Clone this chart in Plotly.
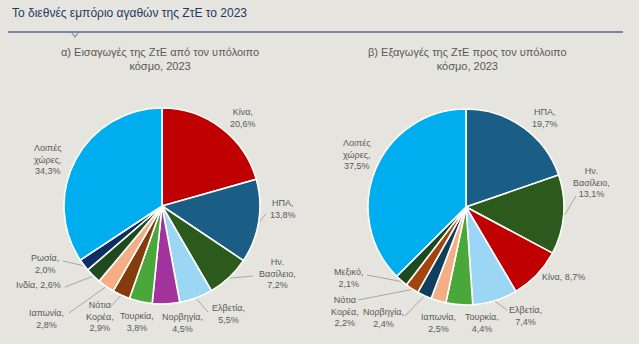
import math
import plotly.graph_objects as go

W, H = 639, 344

# ---- data -------------------------------------------------------------
imp_countries = ["Κίνα", "ΗΠΑ", "Ην. Βασίλειο", "Ελβετία", "Νορβηγία", "Τουρκία",
                 "Νότια Κορέα", "Ιαπωνία", "Ινδία", "Ρωσία", "Λοιπές χώρες"]
imp_shares = [20.6, 13.8, 7.2, 5.5, 4.5, 3.8, 2.9, 2.8, 2.6, 2.0, 34.3]

exp_countries = ["ΗΠΑ", "Ην. Βασίλειο", "Κίνα", "Ελβετία", "Τουρκία", "Ιαπωνία",
                 "Νορβηγία", "Νότια Κορέα", "Μεξικό", "Λοιπές χώρες"]
exp_shares = [19.7, 13.1, 8.7, 7.4, 4.4, 2.5, 2.4, 2.2, 2.1, 37.5]

title_text = "Το διεθνές εμπόριο αγαθών της ΖτΕ το 2023"
imp_title = "α) Εισαγωγές της ΖτΕ από τον υπόλοιπο<br>κόσμο, 2023"
exp_title = "β) Εξαγωγές της ΖτΕ προς τον υπόλοιπο<br>κόσμο, 2023"

# ---- styling ----------------------------------------------------------
colors = {
    "Κίνα": "#c00000",
    "ΗΠΑ": "#1a5e85",
    "Ην. Βασίλειο": "#2b5a1c",
    "Ελβετία": "#9bd7f4",
    "Νορβηγία": "#a2329c",
    "Τουρκία": "#4aa73a",
    "Νότια Κορέα": "#843c0c",
    "Ιαπωνία": "#f4ae86",
    "Ινδία": "#1e4a1e",
    "Ρωσία": "#0e2d62",
    "Μεξικό": "#1e4a1e",
    "Λοιπές χώρες": "#00adef",
}
exp_colors = dict(colors)
exp_colors["Νορβηγία"] = "#0f3f5c"
exp_colors["Νότια Κορέα"] = "#a1440e"

wrapped = {"Ην. Βασίλειο": "Ην.<br>Βασίλειο", "Λοιπές χώρες": "Λοιπές<br>χώρες",
           "Νότια Κορέα": "Νότια<br>Κορέα"}

BG = "#e5e4df"
LABEL_FONT = dict(family="Liberation Sans, Arial, sans-serif", size=9, color="#5a5a5a")

# pie geometry in pixels: centre x, centre y (from top), radius
imp_geo = (162, 206, 98)
exp_geo = (466, 207, 98)

# label placement in pixels: centre of text block, single-line flag, leader end
imp_label_pos = {
    "Κίνα": (243, 117.5, False, None),
    "ΗΠΑ": (283, 209, False, (266, 214)),
    "Ην. Βασίλειο": (277, 273.5, False, (253, 276)),
    "Ελβετία": (228, 313.5, False, (208, 312)),
    "Νορβηγία": (182, 323, False, None),
    "Τουρκία": (137, 322, False, None),
    "Νότια Κορέα": (100, 316, False, (111, 306)),
    "Ιαπωνία": (46, 319, False, (69, 313)),
    "Ινδία": (38, 285, True, (65, 287)),
    "Ρωσία": (45, 263.5, False, (63, 261)),
    "Λοιπές χώρες": (48, 159.5, False, None),
}
exp_label_pos = {
    "ΗΠΑ": (545, 118, False, None),
    "Ην. Βασίλειο": (591, 182, False, (576, 196)),
    "Κίνα": (563, 277, True, None),
    "Ελβετία": (525, 315.5, False, (507, 310)),
    "Τουρκία": (482, 323, False, None),
    "Ιαπωνία": (438, 323, False, None),
    "Νορβηγία": (383, 317.5, False, (405, 316)),
    "Νότια Κορέα": (345, 311, False, (358, 300)),
    "Μεξικό": (348, 278, False, (367, 275)),
    "Λοιπές χώρες": (357, 154.5, False, None),
}


def px(x):
    return x / W


def py(y):
    return 1 - y / H


def pie_domain(geo):
    cx, cy, r = geo
    return dict(x=[px(cx - r), px(cx + r)], y=[py(cy + r), py(cy - r)])


def fmt(v):
    return f"{v:.1f}".replace(".", ",") + "%"


fig = go.Figure()
for names, vals, geo, cmap in [(imp_countries, imp_shares, imp_geo, colors),
                               (exp_countries, exp_shares, exp_geo, exp_colors)]:
    fig.add_trace(go.Pie(
        labels=names, values=vals, sort=False, direction="clockwise", rotation=0,
        marker=dict(colors=[cmap[n] for n in names], line=dict(color="white", width=1.6)),
        textinfo="none", hoverinfo="label+percent", showlegend=False,
        domain=pie_domain(geo),
    ))

annotations = []
shapes = []


def add_labels(names, vals, geo, pos):
    cx, cy, r = geo
    total = sum(vals)
    cum = 0.0
    for n, v in zip(names, vals):
        mid = (cum + v / 2) / total * 2 * math.pi
        cum += v
        lx, ly, single, leader = pos[n]
        if single:
            txt = f"{n}, {fmt(v)}"
        else:
            txt = f"{wrapped.get(n, n)},<br>{fmt(v)}"
        annotations.append(dict(
            x=px(lx), y=py(ly), xref="paper", yref="paper", text=txt,
            showarrow=False, xanchor="center", yanchor="middle", align="center",
            font=LABEL_FONT,
        ))
        if leader is not None:
            ex = cx + (r + 1) * math.sin(mid)
            ey = cy - (r + 1) * math.cos(mid)
            shapes.append(dict(
                type="line", xref="paper", yref="paper",
                x0=px(ex), y0=py(ey), x1=px(leader[0]), y1=py(leader[1]),
                line=dict(color="#a6a6a6", width=1),
            ))


add_labels(imp_countries, imp_shares, imp_geo, imp_label_pos)
add_labels(exp_countries, exp_shares, exp_geo, exp_label_pos)

# header
annotations.append(dict(
    x=px(10), y=py(13), xref="paper", yref="paper", text=title_text,
    showarrow=False, xanchor="left", yanchor="middle",
    font=dict(family="Liberation Sans, Arial, sans-serif", size=12, color="#1f3a5f"),
))
for txt, cxp in [(imp_title, 160), (exp_title, 467)]:
    annotations.append(dict(
        x=px(cxp), y=py(59.5), xref="paper", yref="paper", text=txt,
        showarrow=False, xanchor="center", yanchor="middle", align="center",
        font=dict(family="Liberation Sans, Arial, sans-serif", size=11, color="#5a5a5a"),
    ))

shapes.append(dict(type="line", xref="paper", yref="paper",
                   x0=px(8), y0=py(32), x1=px(623), y1=py(32),
                   line=dict(color="#56698a", width=1.6)))
shapes.append(dict(type="path", xref="paper", yref="paper",
                   path=f"M {px(72)},{py(33)} L {px(75)},{py(37)} L {px(78)},{py(33)}",
                   line=dict(color="#7d8ea6", width=1.2)))

fig.update_layout(
    width=W, height=H, margin=dict(l=0, r=0, t=0, b=0),
    paper_bgcolor=BG, plot_bgcolor=BG,
    annotations=annotations, shapes=shapes,
)

fig.write_html("out.html")
